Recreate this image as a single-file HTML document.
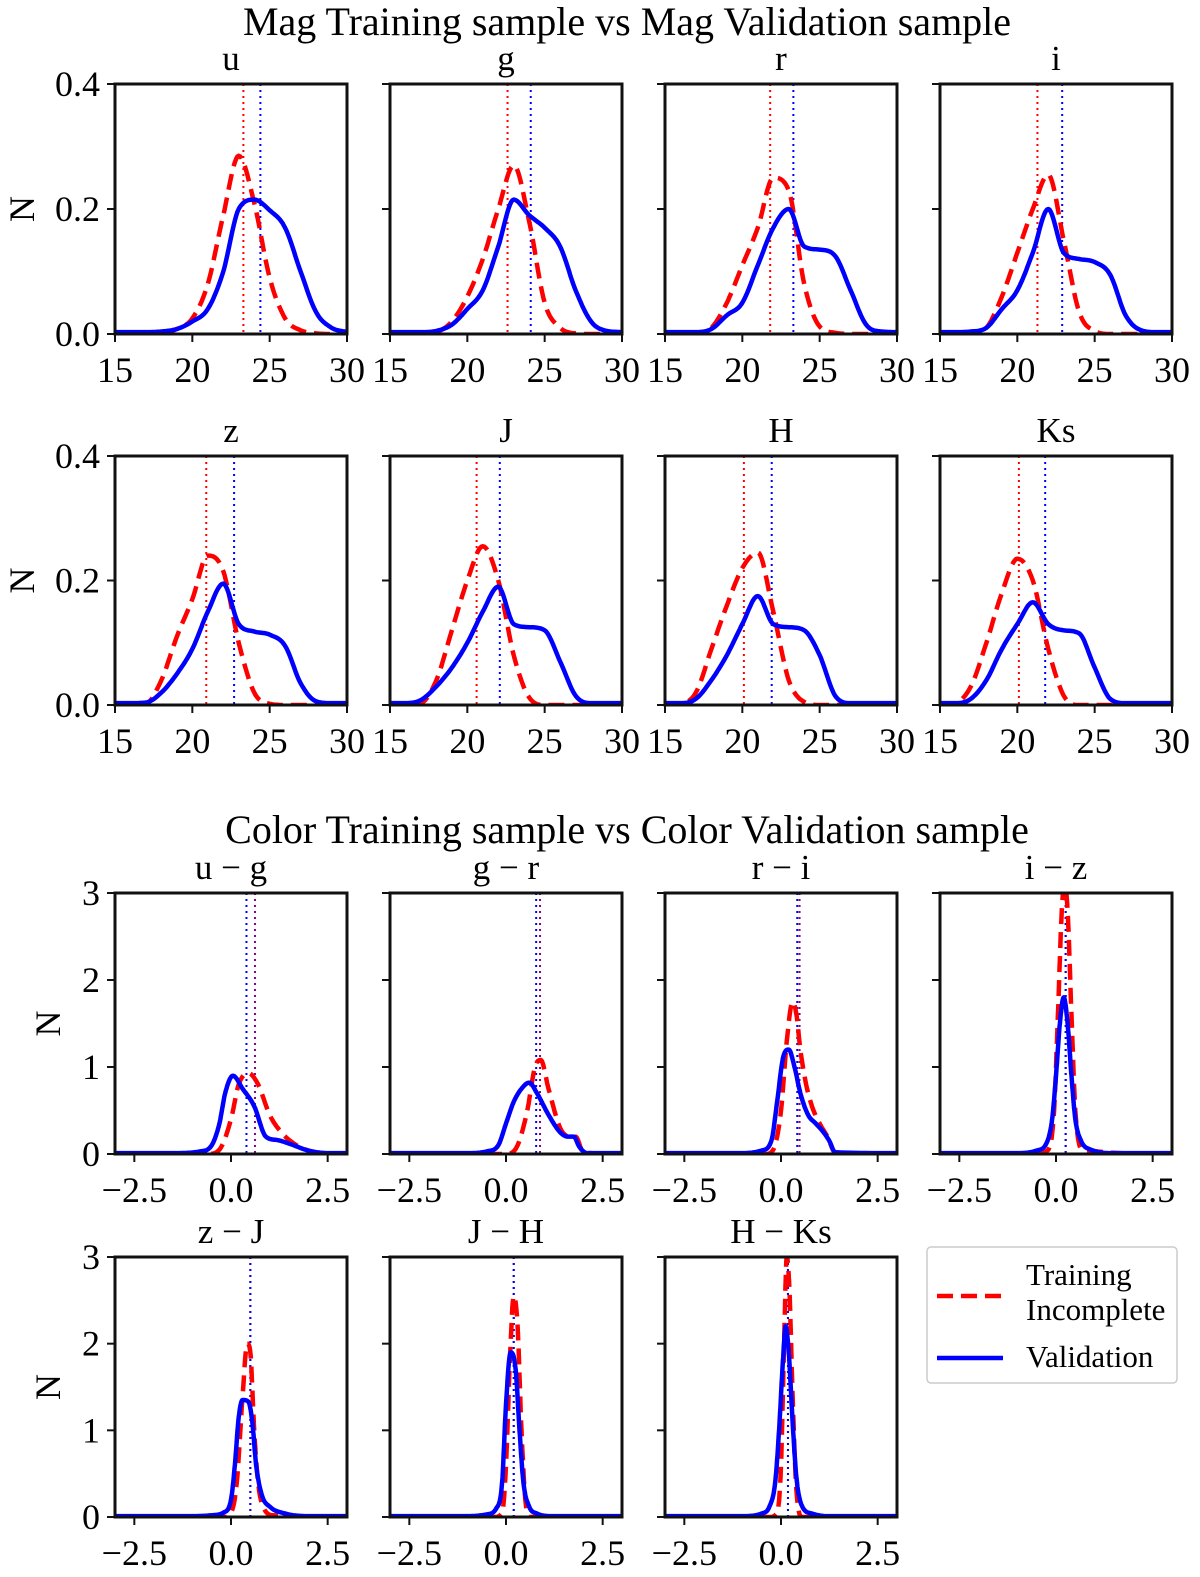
<!DOCTYPE html>
<html><head><meta charset="utf-8"><style>
html,body{margin:0;padding:0;background:#fff;}
svg{display:block;font-family:"Liberation Serif","DejaVu Serif",serif;}
</style></head><body>
<svg id="fig" width="1200" height="1577" viewBox="0 0 1200 1577" xmlns="http://www.w3.org/2000/svg">
<text x="627" y="35" font-size="40" text-anchor="middle">Mag Training sample vs Mag Validation sample</text>
<text x="627" y="843" font-size="40" text-anchor="middle">Color Training sample vs Color Validation sample</text>
<g id="panels"></g>
<g>
<rect x="927" y="1247" width="250" height="136" rx="4" fill="#fff" stroke="#ccc" stroke-width="1.5"/>
<line x1="937" y1="1296" x2="1003" y2="1296" stroke="#ff0000" stroke-width="4.5" stroke-dasharray="16,8"/>
<text x="1026" y="1285" font-size="31">Training</text>
<text x="1026" y="1320" font-size="31">Incomplete</text>
<line x1="937" y1="1358" x2="1003" y2="1358" stroke="#0000ff" stroke-width="4.5"/>
<text x="1026" y="1367" font-size="31">Validation</text>
</g>
</svg>
<script>
// ---- data ----
const magNames = ["u","g","r","i","z","J","H","Ks"];
const magGrid = [15,16,17,18,19,20,21,22,23,24,25,26,27,28,29,30];
const magTrain = [
 [0,0,0,0.002,0.008,0.025,0.08,0.19,0.285,0.21,0.09,0.025,0.006,0.001,0,0],
 [0,0,0,0.003,0.02,0.06,0.12,0.2,0.27,0.18,0.05,0.01,0.001,0,0,0],
 [0,0,0.001,0.01,0.05,0.11,0.17,0.25,0.23,0.08,0.012,0.002,0,0,0,0],
 [0,0,0.001,0.01,0.06,0.13,0.2,0.255,0.15,0.035,0.005,0,0,0,0,0],
 [0,0,0.002,0.04,0.11,0.17,0.24,0.215,0.1,0.02,0.002,0,0,0,0,0],
 [0,0,0.003,0.04,0.12,0.2,0.255,0.2,0.08,0.012,0,0,0,0,0,0],
 [0,0.002,0.02,0.09,0.16,0.22,0.245,0.15,0.04,0.005,0,0,0,0,0,0],
 [0,0.003,0.03,0.1,0.18,0.235,0.2,0.09,0.015,0,0,0,0,0,0,0]
];
const magValid = [
 [0.003,0.003,0.003,0.004,0.008,0.02,0.04,0.1,0.2,0.215,0.198,0.17,0.1,0.035,0.01,0.003],
 [0.003,0.003,0.003,0.005,0.015,0.04,0.07,0.14,0.215,0.19,0.17,0.14,0.07,0.02,0.005,0.003],
 [0.003,0.003,0.003,0.008,0.03,0.05,0.11,0.17,0.2,0.14,0.135,0.125,0.07,0.015,0.004,0.003],
 [0.003,0.003,0.004,0.01,0.04,0.07,0.13,0.2,0.13,0.12,0.115,0.095,0.03,0.006,0.003,0.003],
 [0.003,0.003,0.004,0.02,0.05,0.09,0.15,0.195,0.13,0.118,0.113,0.095,0.035,0.006,0.003,0.003],
 [0.003,0.003,0.008,0.03,0.06,0.1,0.15,0.19,0.13,0.125,0.12,0.07,0.015,0.003,0.003,0.003],
 [0.003,0.003,0.01,0.04,0.08,0.13,0.175,0.13,0.125,0.12,0.08,0.015,0.003,0.003,0.003,0.003],
 [0.003,0.003,0.01,0.04,0.09,0.13,0.165,0.13,0.12,0.115,0.06,0.01,0.003,0.003,0.003,0.003]
];
const magMeanTrain = [23.3,22.6,21.8,21.3,20.9,20.6,20.1,20.1];
const magMeanValid = [24.4,24.1,23.3,22.9,22.7,22.1,21.9,21.8];
const magXTicks = [15,20,25,30];
const magYTicks = [0,0.2,0.4];
const magYLabels = ["0.0","0.2","0.4"];

const colNames = ["u \u2212 g","g \u2212 r","r \u2212 i","i \u2212 z","z \u2212 J","J \u2212 H","H \u2212 Ks"];
const colTrainX = [
 [-3,-0.6,-0.3,0,0.2,0.45,0.7,1.0,1.3,1.7,2.2,3],
 [-3,0,0.3,0.55,0.75,0.9,1.1,1.4,1.65,1.8,2,3],
 [-3,-0.4,-0.2,0,0.15,0.3,0.4,0.5,0.65,0.8,1,1.2,1.4,3],
 [-3,-0.5,-0.2,-0.05,0.05,0.15,0.22,0.3,0.4,0.5,0.7,3],
 [-3,-0.2,0,0.15,0.3,0.42,0.5,0.6,0.7,0.85,1.1,3],
 [-3,-0.3,-0.1,0,0.1,0.2,0.3,0.4,0.5,0.6,3],
 [-3,-0.3,-0.1,0,0.08,0.15,0.22,0.3,0.4,0.55,3]
];
const colTrainY = [
 [0,0,0.05,0.4,0.8,0.93,0.8,0.45,0.25,0.1,0.02,0],
 [0,0,0.1,0.5,1.0,1.08,0.75,0.3,0.2,0.2,0.02,0],
 [0,0,0.05,0.5,1.3,1.75,1.6,1.2,0.8,0.55,0.35,0.2,0.02,0],
 [0,0,0.05,0.5,1.6,2.8,3.1,2.8,1.6,0.5,0.05,0],
 [0,0,0.05,0.4,1.4,2.0,1.9,1.0,0.4,0.1,0.02,0],
 [0,0,0.05,0.6,1.8,2.55,2.2,1.0,0.2,0,0],
 [0,0,0.05,0.6,2.0,3.0,2.6,1.4,0.3,0,0]
];
const colValidX = [
 [-3,-1.5,-0.8,-0.5,-0.3,-0.15,0.05,0.3,0.6,0.9,1.2,1.5,2,2.5,3],
 [-3,-1,-0.5,-0.2,0,0.2,0.4,0.6,0.8,1.1,1.4,1.6,1.75,1.9,2.1,3],
 [-3,-1,-0.5,-0.25,-0.1,0.05,0.2,0.35,0.5,0.7,0.9,1.1,1.25,1.4,3],
 [-3,-1,-0.5,-0.25,-0.1,0,0.1,0.2,0.3,0.4,0.5,0.65,0.9,1.5,3],
 [-3,-1,-0.5,-0.2,0,0.1,0.2,0.3,0.45,0.55,0.65,0.8,1.0,1.4,2,3],
 [-3,-1,-0.5,-0.25,-0.1,0,0.12,0.25,0.35,0.45,0.6,0.8,1.2,3],
 [-3,-1,-0.5,-0.3,-0.15,-0.05,0.05,0.12,0.2,0.3,0.4,0.55,0.8,1.2,3]
];
const colValidY = [
 [0.01,0.01,0.03,0.1,0.35,0.7,0.9,0.75,0.55,0.2,0.16,0.12,0.04,0.01,0.01],
 [0.01,0.01,0.03,0.1,0.35,0.6,0.75,0.82,0.7,0.45,0.25,0.2,0.2,0.08,0.01,0.01],
 [0.01,0.01,0.04,0.15,0.6,1.1,1.2,1.0,0.7,0.45,0.35,0.25,0.15,0.02,0.01],
 [0.01,0.01,0.04,0.12,0.4,0.9,1.5,1.8,1.5,0.9,0.4,0.15,0.05,0.01,0.01],
 [0.01,0.01,0.02,0.05,0.2,0.6,1.15,1.35,1.33,1.1,0.6,0.25,0.12,0.04,0.01,0.01],
 [0.01,0.01,0.03,0.1,0.4,1.3,1.9,1.7,1.0,0.4,0.12,0.04,0.01,0.01],
 [0.01,0.01,0.04,0.12,0.4,1.0,1.8,2.2,1.9,1.1,0.45,0.12,0.04,0.01,0.01]
];
const colMeanTrain = [0.62,0.88,0.48,0.25,0.5,0.2,0.18];
const colMeanValid = [0.4,0.78,0.42,0.25,0.5,0.2,0.18];
const colXTicks = [-2.5,0,2.5];
const colXLabels = ["\u22122.5","0.0","2.5"];
const colYTicks = [0,1,2,3];

// ---- drawing ----
const NS = "http://www.w3.org/2000/svg";
const root = document.getElementById("panels");
const lefts = [115,390,665,940];
const W = 232;
function mk(tag, attrs, parent){
  const e = document.createElementNS(NS, tag);
  for (const k in attrs) e.setAttribute(k, attrs[k]);
  parent.appendChild(e);
  return e;
}
function monotone(xs, ys){
  const n = xs.length, d = [], m = new Array(n);
  for (let i=0;i<n-1;i++) d.push((ys[i+1]-ys[i])/(xs[i+1]-xs[i]));
  m[0]=d[0]; m[n-1]=d[n-2];
  for (let i=1;i<n-1;i++){ m[i] = (d[i-1]*d[i]<=0)?0:(d[i-1]+d[i])/2; }
  for (let i=0;i<n-1;i++){
    if (d[i]===0){m[i]=0;m[i+1]=0;continue;}
    const a=m[i]/d[i], b=m[i+1]/d[i], s=a*a+b*b;
    if (s>9){const t=3/Math.sqrt(s); m[i]=t*a*d[i]; m[i+1]=t*b*d[i];}
  }
  const pts=[];
  for (let i=0;i<n-1;i++){
    const h=xs[i+1]-xs[i];
    for (let k=0;k<12;k++){
      const t=k/12, t2=t*t, t3=t2*t;
      const y=(2*t3-3*t2+1)*ys[i]+(t3-2*t2+t)*h*m[i]+(-2*t3+3*t2)*ys[i+1]+(t3-t2)*h*m[i+1];
      pts.push([xs[i]+t*h, Math.max(0,y)]);
    }
  }
  pts.push([xs[n-1], ys[n-1]]);
  return pts;
}
let clipId = 0;
function panel(opts){
  const {left, top, bottom, xmin, xmax, ymax, title, xt, xl, yt, yl, showY, tx, ty, vx, vy, mt, mv, tickY, meanTrainColor, name} = opts;
  const g = mk("g", {}, root);
  
  
  const sx = v => left + (v - xmin) / (xmax - xmin) * W;
  const sy = v => bottom - v / ymax * (bottom - top);
  const cid = "clip" + (clipId++);
  const cp = mk("clipPath", {id: cid}, g);
  mk("rect", {x:left, y:top, width:W, height:bottom-top}, cp);
  const plot = mk("g", {"clip-path":"url(#"+cid+")"}, g);
  const l1 = mk("line", {x1:sx(mt), x2:sx(mt), y1:top, y2:bottom, stroke:meanTrainColor, "stroke-width":2, "stroke-dasharray":"2,4"}, plot);
  
  
  const l2 = mk("line", {x1:sx(mv), x2:sx(mv), y1:top, y2:bottom, stroke:"#0000ff", "stroke-width":2, "stroke-dasharray":"2,4"}, plot);
  
  
  const toPath = pts => pts.map((p,i)=>(i?"L":"M")+sx(p[0]).toFixed(1)+","+sy(p[1]).toFixed(1)).join("");
  const p1 = mk("path", {d:toPath(monotone(tx,ty)), fill:"none", stroke:"#ff0000", "stroke-width":4.5, "stroke-dasharray":"16,8"}, plot);
  
  
  const p2 = mk("path", {d:toPath(monotone(vx,vy)), fill:"none", stroke:"#0000ff", "stroke-width":4.5, "stroke-linejoin":"round"}, plot);
  
  
  const fr = mk("rect", {x:left, y:top, width:W, height:bottom-top, fill:"none", stroke:"#111", "stroke-width":3}, g);
  
  
  xt.forEach((v,i)=>{
    mk("line", {x1:sx(v), x2:sx(v), y1:bottom, y2:bottom+8, stroke:"#111", "stroke-width":2}, g);
    const t = mk("text", {x:sx(v), y:bottom+48, "font-size":36, "text-anchor":"middle"}, g);
    t.textContent = xl[i];
    
    
  });
  yt.forEach((v,i)=>{
    mk("line", {x1:left-8, x2:left, y1:sy(v), y2:sy(v), stroke:"#111", "stroke-width":2}, g);
    if (showY){
      const t = mk("text", {x:left-15, y:sy(v)+12, "font-size":36, "text-anchor":"end"}, g);
      t.textContent = yl[i];
      
      
    }
  });
  if (showY){
    const cy = (top+bottom)/2;
    const t = mk("text", {x:0, y:0, "font-size":36, "text-anchor":"middle", transform:"translate("+(tickY)+","+cy+") rotate(-90)"}, g);
    t.textContent = "N";
    
    
  }
  const tt = mk("text", {x:left+W/2, y:top-14, "font-size":35, "text-anchor":"middle"}, g);
  tt.textContent = title;
  
  
}
const magRows = [[84,334],[456,705]];
magNames.forEach((nm,i)=>{
  const r = Math.floor(i/4), c = i%4;
  panel({left:lefts[c], top:magRows[r][0], bottom:magRows[r][1], xmin:15, xmax:30, ymax:0.4,
    title:nm, xt:magXTicks, xl:magXTicks.map(String), yt:magYTicks, yl:magYLabels, showY:c===0, tickY:34,
    tx:magGrid, ty:magTrain[i], vx:magGrid, vy:magValid[i], mt:magMeanTrain[i], mv:magMeanValid[i],
    meanTrainColor:"#ff0000", name:"mag-panel-"+nm.toLowerCase()});
});
const colRows = [[893,1154],[1257,1517]];
colNames.forEach((nm,i)=>{
  const r = Math.floor(i/4), c = i%4;
  panel({left:lefts[c], top:colRows[r][0], bottom:colRows[r][1], xmin:-3, xmax:3, ymax:3,
    title:nm, xt:colXTicks, xl:colXLabels, yt:colYTicks, yl:colYTicks.map(String), showY:c===0, tickY:60,
    tx:colTrainX[i], ty:colTrainY[i], vx:colValidX[i], vy:colValidY[i], mt:colMeanTrain[i], mv:colMeanValid[i],
    meanTrainColor:"#8b008b", name:"color-panel-"+i});
});
</script>
</body></html>
